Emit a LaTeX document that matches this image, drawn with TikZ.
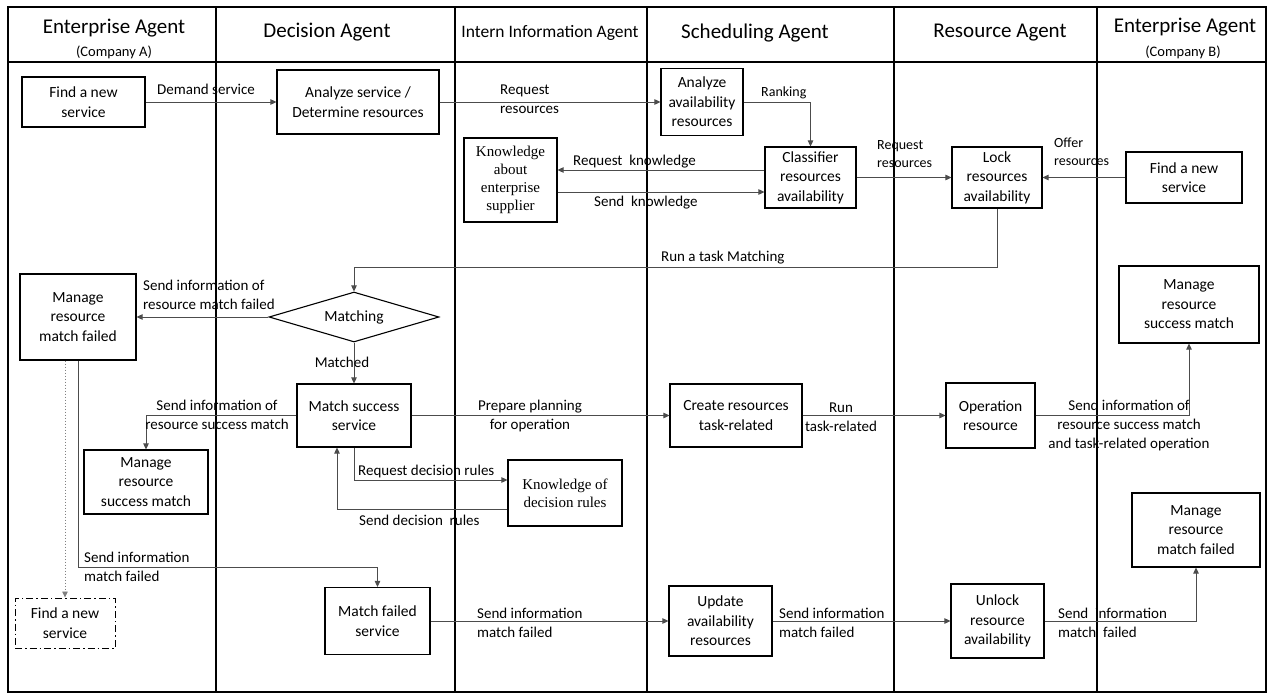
\documentclass[tikz,border=0pt]{standalone}
\usepackage{fontspec}
\setmainfont{Carlito}
\newfontfamily\timesfont{Liberation Serif}
\usepackage{tikz}
\usetikzlibrary{arrows.meta, positioning, calc, shapes}

\begin{document}
\begin{tikzpicture}[x=1pt, y=-1pt,
        box/.style={draw, fill=white, line width=1.1pt, align=center, inner sep=0pt, font=\fontsize{15.5}{19.5}\selectfont},
        kbox/.style={box, font=\timesfont\fontsize{15}{18}\selectfont},
        lbl/.style={inner sep=0pt, align=left, font=\fontsize{15}{19}\selectfont},
        slbl/.style={lbl, font=\fontsize{14}{18}\selectfont},
        flow/.style={draw=black!70, line width=0.8pt, -{Triangle[length=6pt,width=5.5pt]}},
        lane/.style={line width=1.2pt}]
        \useasboundingbox (0,0) rectangle (1271,698);

        % swim lanes
        \draw[lane] (8,7) rectangle (1266,692);
        \draw[lane] (8,62) -- (1266,62);
        \foreach \x in {216,455,647,894,1097}
            \draw[lane] (\x,7) -- (\x,692);

        % lane titles
        \node[font=\fontsize{21}{24}\selectfont] (hEntA) at (114,28) {Enterprise Agent};
        \node[font=\fontsize{14.5}{17}\selectfont] (hCoA) at (114,52) {(Company A)};
        \node[font=\fontsize{21}{24}\selectfont] (hDec) at (327,32) {Decision Agent};
        \node[font=\fontsize{17.5}{20}\selectfont] (hInt) at (550,33) {Intern Information Agent};
        \node[font=\fontsize{21}{24}\selectfont] (hSch) at (755,33) {Scheduling Agent};
        \node[font=\fontsize{21}{24}\selectfont] (hRes) at (1000,33) {Resource Agent};
        \node[font=\fontsize{21}{24}\selectfont] (hEntB) at (1185,27) {Enterprise Agent};
        \node[font=\fontsize{14.5}{17}\selectfont] (hCoB) at (1183,52) {(Company B)};

        % activities
        \node[box, minimum width=123pt, minimum height=50pt] (findA) at (83.5,102) {Find a new\\service};
        \node[box, minimum width=162pt, minimum height=64pt] (anaSrv) at (358,102) {Analyze service /\\Determine resources};
        \node[box, minimum width=82pt, minimum height=67pt] (anaAv) at (702,102) {Analyze\\availability\\resources};
        \node[kbox, minimum width=93pt, minimum height=84pt] (knowSup) at (510.5,180) {Knowledge\\about\\enterprise\\supplier};
        \node[box, minimum width=91pt, minimum height=61pt] (classif) at (810.5,177.5) {Classifier\\resources\\availability};
        \node[box, minimum width=90pt, minimum height=61pt] (lock) at (997,177.5) {Lock\\resources\\availability};
        \node[box, minimum width=116pt, minimum height=51pt] (findB) at (1184,177.5) {Find a new\\service};
        \node[draw, fill=white, diamond, aspect=3.4, minimum width=170pt, minimum height=50pt, inner sep=0pt, line width=1.1pt, font=\fontsize{15.5}{19.5}\selectfont] (match) at (354,317) {Matching};
        \node[box, minimum width=116pt, minimum height=86pt] (mfA) at (78,317) {Manage\\resource\\match failed};
        \node[box, minimum width=140pt, minimum height=77pt] (mgsB) at (1189,304.5) {Manage\\resource\\success match};
        \node[box, minimum width=114pt, minimum height=63pt] (msS) at (354,415.5) {Match success\\service};
        \node[box, minimum width=124pt, minimum height=64pt] (msA) at (146,482) {Manage\\resource\\success match};
        \node[kbox, minimum width=114pt, minimum height=66pt] (knowDec) at (565,493) {Knowledge of\\decision rules};
        \node[box, minimum width=132pt, minimum height=63pt] (create) at (736,415.5) {Create resources\\task-related};
        \node[box, minimum width=89pt, minimum height=65pt] (oper) at (990.5,415.5) {Operation\\resource};
        \node[box, minimum width=128pt, minimum height=74pt] (mgfB) at (1196,530) {Manage\\resource\\match failed};
        \node[box, line width=1pt, dash pattern=on 7pt off 3pt on 1.5pt off 3pt, minimum width=100pt, minimum height=50pt] (findN) at (65,623) {Find a new\\service};
        \node[box, minimum width=105pt, minimum height=67pt] (mfS) at (377.5,621) {Match failed\\service};
        \node[box, minimum width=103pt, minimum height=70pt] (update) at (720.5,621) {Update\\availability\\resources};
        \node[box, minimum width=93pt, minimum height=74pt] (unlock) at (997.5,621) {Unlock\\resource\\availability};

        % helper points
        \coordinate (kReq) at ([yshift=7.5pt]classif.west);
        \coordinate (kSnd) at ([yshift=-14.5pt]classif.west);
        \path (lock.south) ++(0,59) coordinate (runC);
        \coordinate (decReq) at ([yshift=13pt]knowDec.west);
        \coordinate (decSnd) at ([yshift=-16pt]knowDec.west);
        \path (mfS.north) ++(0,-20) coordinate (failT);

        % messages
        \draw[flow] (findA) -- (anaSrv);
        \draw[flow] (anaSrv) -- (anaAv);
        \draw[flow] (anaAv.east) -| (classif.north);
        \draw[flow] (kReq) -- (kReq -| knowSup.east);
        \draw[flow] (kSnd -| knowSup.east) -- (kSnd);
        \draw[flow] (classif) -- (lock);
        \draw[flow] (findB) -- (lock);
        \draw[flow] (lock.south) -- (runC) -| (match.north);
        \draw[flow] (match) -- (mfA);
        \draw[flow] (match) -- (msS);
        \draw[flow] (msS.west) -| (msA.north);
        \draw[flow] (msS) -- (create);
        \draw[flow] (create) -- (oper);
        \draw[flow] (oper.east) -| (mgsB.south);
        \draw[flow] (msS.south) |- (decReq);
        \draw[flow] (decSnd) -| ([xshift=-17pt]msS.south);
        \draw[flow] (mfA.south) |- (failT) -- (mfS.north);
        \draw[flow, draw=black!50, dash pattern=on 1.5pt off 1.5pt] (findN.north |- mfA.south) -- (findN.north);
        \draw[flow] (mfS) -- (update);
        \draw[flow] (update) -- (unlock);
        \draw[flow] (unlock.east) -| (mgfB.south);

        % message labels
        \node[lbl, anchor=west] (lDemand) at (157,89) {Demand service};
        \node[lbl, anchor=west] (lReqRes) at (500,99) {Request\\resources};
        \node[slbl, anchor=west] (lRank) at (761,93) {Ranking};
        \node[lbl, anchor=west] (lReqKn) at (573,162) {Request\ \ knowledge};
        \node[lbl, anchor=west] (lSendKn) at (594,203) {Send\ \ knowledge};
        \node[slbl, anchor=west] (lReqLock) at (877,154) {Request\\resources};
        \node[slbl, anchor=west] (lOffer) at (1054,152) {Offer\\resources};
        \node[lbl, anchor=west] (lRunT) at (661,258) {Run a task Matching};
        \node[lbl, anchor=west] (lSendMF) at (143,295) {Send information of\\resource match failed};
        \node[lbl] (lMatched) at (342,362) {Matched};
        \node[lbl, align=center] (lSendMS) at (217,415) {Send information of\\resource success match};
        \node[lbl, align=center] (lPrep) at (530,416) {Prepare planning\\for operation};
        \node[lbl, align=center] (lRun) at (841,417) {Run\\task-related};
        \node[lbl, align=center] (lSendOp) at (1129,425) {Send information of\\resource success match\\and task-related operation};
        \node[lbl, anchor=west] (lReqDec) at (358,471) {Request decision rules};
        \node[lbl, anchor=west] (lSendDec) at (359,520) {Send decision\ \ rules};
        \node[lbl, anchor=west] (lSendA) at (84,566.5) {Send information\\match failed};
        \node[lbl, anchor=west] (lSendF1) at (477,622.5) {Send information\\match failed};
        \node[lbl, anchor=west] (lSendF2) at (779,622.5) {Send information\\match failed};
        \node[lbl, anchor=west] (lSendF3) at (1058,623) {Send\ \ information\\match\ \ failed};
    \end{tikzpicture}
\end{document}
